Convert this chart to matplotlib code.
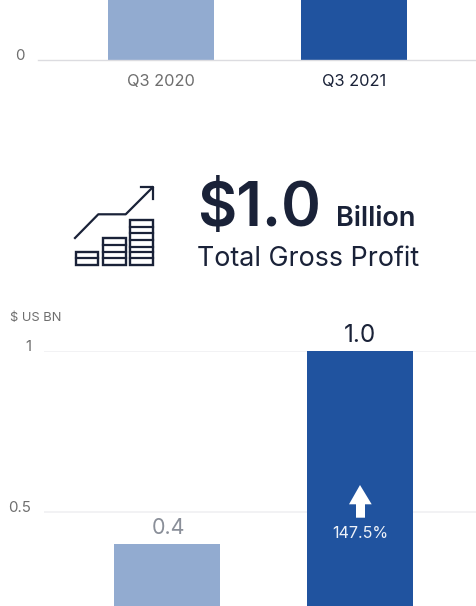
import matplotlib
matplotlib.use('Agg')
import matplotlib.pyplot as plt
from matplotlib.patches import Polygon, Rectangle

plt.rcParams['font.family'] = ['Inter', 'DejaVu Sans']

W, H = 477, 606

quarters = ['Q3 2020', 'Q3 2021']
# only the lowest part of the upper chart's bars is in frame
upper_values = [0.3, 0.7]
profit_values = [0.4, 1.0]
profit_labels = ['0.4', '1.0']
growth_label = '147.5%'
profit_ticks = [0.5, 1]
profit_ticklabels = ['0.5', '1']

LIGHT = '#92abd0'
DARK = '#20539f'
INK = '#1a2238'
GREY = '#6e6e6e'


def px_axes(fig, left, top, right, bottom):
    return fig.add_axes([left / W, 1 - bottom / H, (right - left) / W, (bottom - top) / H])


fig = plt.figure(figsize=(W / 100, H / 100), dpi=100)

# upper chart, cut off at the top edge
ax1 = px_axes(fig, 38, 0, 477, 60)
ax1.bar([0, 1], upper_values, width=0.55, color=[LIGHT, DARK])
ax1.set_xlim(-0.637, 1.637)
ax1.set_ylim(0, 0.2)
ax1.set_xticks([0, 1])
ax1.set_xticklabels(quarters, fontsize=11.8)
ax1.get_xticklabels()[0].set_color(GREY)
ax1.get_xticklabels()[1].set_color(INK)
ax1.set_yticks([0])
ax1.set_yticklabels(['0'], fontsize=10.8, color=GREY, va='baseline')
ax1.tick_params(length=0)
ax1.tick_params(axis='x', pad=10)
ax1.tick_params(axis='y', pad=9.4)
for s in ['top', 'right', 'left']:
    ax1.spines[s].set_visible(False)
ax1.spines['bottom'].set_color('#dcdce0')
ax1.spines['bottom'].set_linewidth(1)

# lower chart, cut off at the bottom edge
ax2 = px_axes(fig, 44, 351, 477, 606)
ax2.bar([0, 1], profit_values, width=0.55, color=[LIGHT, DARK], zorder=2)
ax2.set_xlim(-0.637, 1.606)
ax2.set_ylim(0.208, 1)
ax2.set_xticks([])
ax2.set_yticks(profit_ticks)
ax2.set_yticklabels(profit_ticklabels, fontsize=10.8, color=GREY, va='baseline')
ax2.tick_params(length=0, pad=9.4)
ax2.grid(axis='y', color='#f0f0f2', linewidth=1.2, zorder=0)
for s in ax2.spines.values():
    s.set_visible(False)
ax2.text(0.01, profit_values[0] + 0.02, profit_labels[0], ha='center', va='bottom',
         fontsize=15.5, color='#8a8f99')
ax2.text(1, profit_values[1] + 0.012, profit_labels[1], ha='center', va='bottom',
         fontsize=17.5, color=INK, clip_on=False)

# overlay in pixel coordinates for the headline, icon and arrow
ov = fig.add_axes([0, 0, 1, 1], zorder=5)
ov.set_xlim(0, W)
ov.set_ylim(H, 0)
ov.axis('off')

ov.text(10, 318, '$ US BN', fontsize=9.3, color=GREY, va='center')
ov.text(197, 226, '$1.0', fontsize=43.5, color=INK, weight='semibold', va='baseline')
ov.text(336.5, 226, 'Billion', fontsize=19.5, color=INK, weight='semibold', va='baseline')
ov.text(197, 266.5, 'Total Gross Profit', fontsize=19.3, color=INK, va='baseline')

# icon: trend line over three stacked columns
ov.plot([75, 98.3, 125.7, 152.7], [238, 214.3, 214.3, 187.3], color=INK, lw=1.6)
ov.plot([140.7, 152.7, 152.7], [187.3, 187.3, 199.3], color=INK, lw=1.6)
columns = [
    (75.7, 98.3, 251.7, [258.3]),
    (103, 125.7, 238.3, [245, 251.7, 258.3]),
    (130.3, 152.7, 220, [226.7, 233.3, 240, 246.5, 252, 258.3]),
]
for x0, x1, top, rungs in columns:
    ov.add_patch(Rectangle((x0, top), x1 - x0, 265 - top, fill=False, ec=INK, lw=1.7))
    for y in rungs:
        ov.plot([x0, x1], [y, y], color=INK, lw=1.6)

# growth arrow inside the dark bar
ov.add_patch(Polygon([(360, 485), (371.7, 504.3), (365, 504.3), (365, 517.7),
                      (356, 517.7), (356, 504.3), (349, 504.3)], closed=True,
                     fc='white', ec='none'))
ov.text(360, 533.5, growth_label, fontsize=11.6, color='#eef2f8', ha='center', va='center')

fig.savefig('out.png', dpi=100)
